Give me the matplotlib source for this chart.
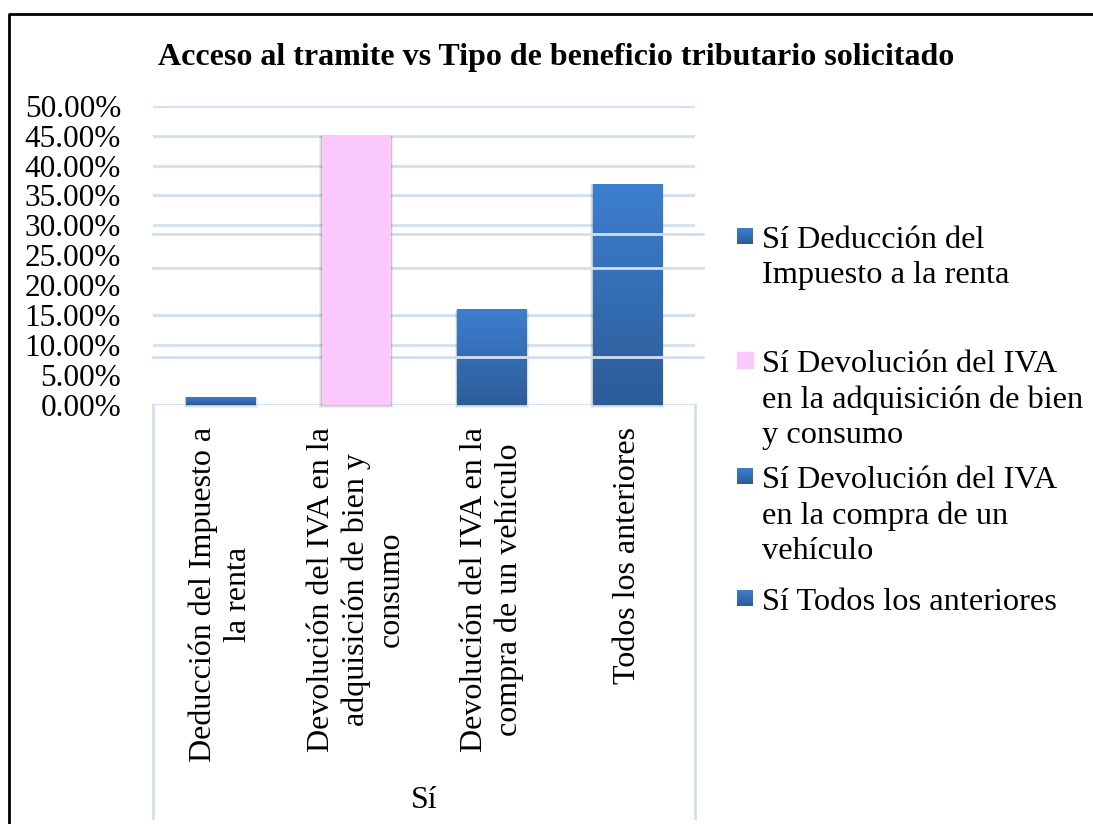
import numpy as np
import matplotlib
matplotlib.use("Agg")
import matplotlib.pyplot as plt
from matplotlib.lines import Line2D
from matplotlib.patches import Rectangle
from matplotlib.colors import LinearSegmentedColormap

plt.rcParams['font.family'] = ['Liberation Serif', 'DejaVu Serif']

# datos
categorias = ["Deducción del Impuesto a\nla renta",
              "Devolución del IVA en la\nadquisición de bien y\nconsumo",
              "Devolución del IVA en la\ncompra de un vehículo",
              "Todos los anteriores"]
valores = [1.4, 45.1, 16.0, 37.0]
leyenda = ["Sí Deducción del\nImpuesto a la renta",
           "Sí Devolución del IVA\nen la adquisición de bien\ny consumo",
           "Sí Devolución del IVA\nen la compra de un\nvehículo",
           "Sí Todos los anteriores"]
grupo = "Sí"
titulo = "Acceso al tramite vs Tipo de beneficio tributario solicitado"
yticks = [0, 5, 10, 15, 20, 25, 30, 35, 40, 45, 50]
# lineas de la cuadricula tal como aparecen en la imagen
grid_cortas = [10, 15, 30, 35, 40, 45, 50]
grid_largas = [8.0, 22.9, 28.5]

azul_top = "#3d7fcf"
azul_bot = "#2c5c98"
rosa = "#fbc8fb"
colores = ["azul", rosa, "azul", "azul"]
gris_grid = "#d3dff0"

W, H = 1093, 824
fig = plt.figure(figsize=(W / 100, H / 100), dpi=100)
ax = fig.add_axes([153 / W, 1 - 405 / H, 542 / W, (405 - 105.7) / H])
ax.set_xlim(-0.5, 3.5)
ax.set_ylim(0, 50)
for s in ax.spines.values():
    s.set_visible(False)

ax.set_yticks(yticks)
ax.set_yticklabels([f"{v:.2f}%" for v in yticks], fontsize=22.5)
ax.tick_params(axis='y', length=0, pad=23)
ax.set_xticks([])

for g in grid_cortas:
    ax.axhline(g, color=gris_grid, lw=2, zorder=1)
for g in grid_largas:
    ax.plot([0, 1.015], [g, g], transform=ax.get_yaxis_transform(),
            color=gris_grid, lw=2, zorder=3, clip_on=False)

# barras
x = np.arange(len(valores))
cmap = LinearSegmentedColormap.from_list("az", [azul_bot, azul_top])
grad = np.linspace(0, 1, 256).reshape(-1, 1)
for i, v in enumerate(valores):
    z = 4 if colores[i] != "azul" else 2
    # sombra
    for k, a in [(0.9, 0.06), (0.6, 0.08), (0.3, 0.1)]:
        ax.add_patch(Rectangle((x[i] - 0.255 - 0.02 * k, -0.5 * k), 0.51 + 0.04 * k, v + 0.3 * k,
                               color="black", alpha=a, lw=0, zorder=z - 0.5, clip_on=False))
    if colores[i] == "azul":
        b = ax.bar(x[i], v, width=0.51, color="none", zorder=z)[0]
        im = ax.imshow(grad, cmap=cmap, origin="lower", aspect="auto",
                       extent=[x[i] - 0.255, x[i] + 0.255, 0, v], zorder=z)
        im.set_clip_path(b)
    else:
        ax.bar(x[i], v, width=0.51, color=colores[i], zorder=z)
ax.set_xlim(-0.5, 3.5)
ax.set_ylim(0, 50)

# base y caja de categorias
ax.axhline(0, color=gris_grid, lw=2, zorder=1.5)
for px in [153, 695]:
    fig.add_artist(Line2D([px / W, px / W], [1 - 405 / H, 1 - 818 / H], color=gris_grid, lw=2))

for i, c in enumerate(categorias):
    ax.annotate(c, xy=(x[i], 0), xycoords=('data', 'axes fraction'),
                xytext=(0, -16), textcoords='offset points', rotation=90,
                ha='center', va='top', multialignment='center', fontsize=23,
                linespacing=1.25)
fig.text(424 / W, 1 - 800 / H, grupo, ha='center', va='center', fontsize=23)

fig.text(556 / W, 1 - 57 / H, titulo, ha='center', va='center', fontsize=23, fontweight='bold')

# leyenda
leg_y = [238, 362, 478, 600]
for i, (lab, yy) in enumerate(zip(leyenda, leg_y)):
    if colores[i] == "azul":
        axm = fig.add_axes([737 / W, 1 - (yy + 6) / H, 16 / W, 16 / H])
        axm.imshow(grad, cmap=cmap, origin="lower", aspect="auto")
        axm.axis("off")
    else:
        fig.add_artist(Rectangle((737 / W, 1 - (yy + 6) / H), 16 / W, 16 / H,
                                 color=colores[i], transform=fig.transFigure))
    fig.text(762 / W, 1 - (yy - 12) / H, lab, ha='left', va='top', fontsize=23.3, linespacing=1.28)

# marco
fig.add_artist(Line2D([9 / W, 9 / W, 1], [0, 1 - 14 / H, 1 - 14 / H], color="black", lw=2))

fig.savefig("out.png", dpi=100)
